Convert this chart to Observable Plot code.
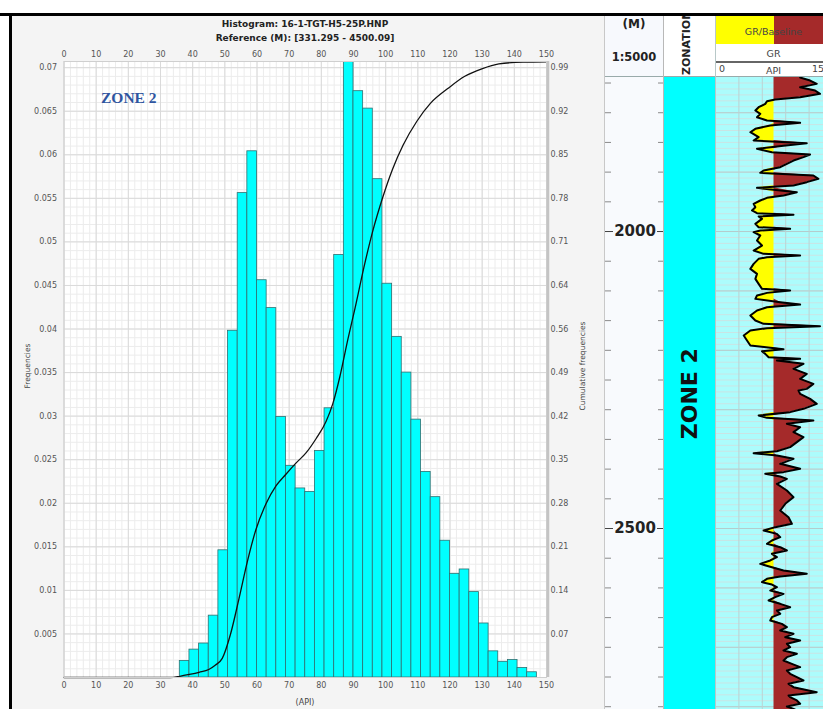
<!DOCTYPE html>
<html><head><meta charset="utf-8">
<script src="https://cdn.jsdelivr.net/npm/d3@7"></script>
<script src="https://cdn.jsdelivr.net/npm/@observablehq/plot@0.6"></script>
<style>
body{margin:0;width:823px;height:709px;overflow:hidden;background:#fff;position:relative;font-family:"DejaVu Sans",sans-serif}
.abs{position:absolute}
.c{position:absolute;white-space:nowrap;transform:translate(-50%,-50%)}
svg{max-width:none !important}
</style></head><body>
<div id="hist" class="abs" style="left:12px;top:16px"></div>
<div class="c" style="left:305px;top:24px;font-weight:bold;font-size:9px;color:#222">Histogram: 16-1-TGT-H5-25P.HNP</div>
<div class="c" style="left:305px;top:38px;font-weight:bold;font-size:9px;color:#222">Reference (M): [331.295 - 4500.09]</div>
<div class="c" style="left:27px;top:366px;font-size:7.5px;color:#444;transform:translate(-50%,-50%) rotate(-90deg)">Frequencies</div>
<div class="c" style="left:582px;top:366px;font-size:7.5px;color:#444;transform:translate(-50%,-50%) rotate(-90deg)">Cumulative frequencies</div>
<div class="c" style="left:305px;top:702px;font-size:8px;color:#444">(API)</div>
<div class="abs" style="left:101px;top:89px;font-family:'Liberation Serif',serif;font-weight:bold;font-size:15.5px;color:#2f55a0">ZONE 2</div>

<!-- log panel -->
<div class="abs" style="left:604px;top:16px;width:1px;height:693px;background:#c8c8c8"></div>
<div class="abs" style="left:605px;top:16px;width:59px;height:60px;background:#f7f9fd">
  <div class="c" style="left:29px;top:7.5px;font-weight:bold;font-size:12px;color:#222">(M)</div>
  <div class="c" style="left:29px;top:41px;font-weight:bold;font-size:11.5px;color:#222">1:5000</div>
</div>
<div class="abs" style="left:664px;top:16px;width:51px;height:60px;background:#fff;overflow:hidden">
  <svg width="51" height="60"><text transform="translate(26,59) rotate(-90)" font-family="DejaVu Sans" font-weight="bold" font-size="11" fill="#222">ZONATION</text></svg>
</div>
<div class="abs" style="left:715px;top:16px;width:108px;height:60px;background:#fff;overflow:hidden">
  <div class="abs" style="left:0;top:0;width:58.5px;height:28px;background:#ffff00"></div>
  <div class="abs" style="left:58.5px;top:0;width:60px;height:28px;background:#a52a2a"></div>
  <div class="c" style="left:58.5px;top:15px;font-size:9.5px;color:#444">GR/Baseline</div>
  <div class="c" style="left:58.5px;top:37px;font-size:9.5px;color:#444">GR</div>
  <div class="abs" style="left:0;top:45px;width:117px;height:2px;background:#666"></div>
  <div class="abs" style="left:4px;top:47px;font-size:9.5px;color:#444">0</div>
  <div class="c" style="left:58.5px;top:54px;font-size:9.5px;color:#444">API</div>
  <div class="abs" style="left:97px;top:47px;font-size:9.5px;color:#444">150</div>
</div>
<div class="abs" style="left:605px;top:76px;width:218px;height:1px;background:#9aa"></div>
<div id="depth" class="abs" style="left:605px;top:77px"></div>
<div id="zone" class="abs" style="left:664px;top:77px"></div>
<div class="abs" style="left:715px;top:77px;width:108px;height:632px;overflow:hidden"><div id="gr" style="width:117px;height:632px"></div></div>
<div class="abs" style="left:663px;top:16px;width:1px;height:693px;background:#b8b8b8"></div>
<div class="abs" style="left:714.5px;top:16px;width:1px;height:693px;background:#b8c8c8"></div>

<div class="abs" style="left:0;top:13px;width:823px;height:3px;background:#000"></div>
<div class="abs" style="left:9px;top:13px;width:3px;height:696px;background:#000"></div>

<script>
// ---------- Histogram data ----------
const binWidth = 3;
const binStarts = [36,39,42,45,48,51,54,57,60,63,66,69,72,75,78,81,84,87,90,93,96,99,102,105,108,111,114,117,120,123,126,129,132,135,138,141,144];
const frequencies = [0.0019,0.0032,0.0039,0.0071,0.0146,0.0398,0.0556,0.0604,0.0456,0.0424,0.0299,0.0243,0.0217,0.0213,0.0260,0.0309,0.0485,0.0712,0.0673,0.0653,0.0572,0.0452,0.0391,0.0350,0.0296,0.0236,0.0207,0.0157,0.0119,0.0124,0.0098,0.0062,0.0030,0.0018,0.0020,0.0011,0.0006];
const cumApi = [0,33,36,39,42,45,47,49.2,51.8,54.4,57,59.6,62.8,65.9,69,72.1,75.3,78.4,81.5,83.6,85.7,88.3,90.5,93.2,95.9,99,102.2,105.4,109.7,113.9,119.3,124.6,129.9,135.2,142.7,150];
const cumFreq = [0,0,0.002,0.005,0.0085,0.013,0.02,0.031,0.071,0.128,0.188,0.239,0.282,0.311,0.33,0.348,0.365,0.388,0.416,0.445,0.487,0.55,0.60,0.665,0.723,0.778,0.826,0.864,0.903,0.932,0.956,0.976,0.988,0.996,0.999,0.9995];
const apiTicks = [0,10,20,30,40,50,60,70,80,90,100,110,120,130,140,150];
const freqTicks = [0.005,0.01,0.015,0.02,0.025,0.03,0.035,0.04,0.045,0.05,0.055,0.06,0.065,0.07];
const freqLabels = ["0.005","0.01","0.015","0.02","0.025","0.03","0.035","0.04","0.045","0.05","0.055","0.06","0.065","0.07"];
const cumLabels = ["0.07","0.14","0.21","0.28","0.35","0.42","0.49","0.56","0.64","0.71","0.78","0.85","0.92","0.99"];
const cumTop = 0.99;   // cumulative value at the 0.07 frequency line

const bins = binStarts.map((x, i) => ({x1: x, x2: x + binWidth, f: frequencies[i]}));
const cum = cumApi.map((x, i) => ({x, c: cumFreq[i]}));
const yTop = 0.07 / cumTop;

const hist = Plot.plot({
  width: 592, height: 693,
  marginLeft: 51.5, marginRight: 58, marginTop: 45, marginBottom: 32,
  x: {domain: [0, 150]},
  y: {domain: [0, yTop]},
  style: {background: "#f4f4f4", fontFamily: "DejaVu Sans", fontSize: "8px", color: "#555"},
  marks: [
    Plot.frame({fill: "white", stroke: null}),
    Plot.ruleX(d3.range(0, 151, 2), {stroke: "#ececec"}),
    Plot.ruleY(d3.range(0, 0.0705, 0.001), {stroke: "#ececec"}),
    Plot.ruleX(apiTicks, {stroke: "#dadada"}),
    Plot.ruleY(freqTicks, {stroke: "#dadada"}),
    Plot.rectY(bins, {x1: "x1", x2: "x2", y: "f", fill: "#00ffff", stroke: "#2f6f70", strokeWidth: 0.8, clip: true}),
    Plot.line(cum, {x: "x", y: d => d.c * yTop, stroke: "#111", strokeWidth: 1.3, curve: "monotone-x"}),
    Plot.frame({stroke: "#cfcfcf"}),
    Plot.ruleX([150], {stroke: "#c4c4c4", strokeWidth: 2.5, dx: 1.5}),
    Plot.axisX(apiTicks, {anchor: "top", tickSize: 0, tickPadding: 5, label: null, fill: "#555"}),
    Plot.axisX(apiTicks, {anchor: "bottom", tickSize: 0, tickPadding: 5, label: null, fill: "#555"}),
    Plot.axisY(freqTicks, {anchor: "left", tickSize: 0, tickPadding: 7, label: null, fill: "#555",
      tickFormat: d => freqLabels[freqTicks.indexOf(d)]}),
    Plot.axisY(freqTicks, {anchor: "right", tickSize: 0, tickPadding: 4, label: null, fill: "#555",
      tickFormat: d => cumLabels[freqTicks.indexOf(d)]})
  ]
});
document.getElementById("hist").append(hist);

// ---------- Well log data ----------
const depthTop = 1740.7, depthBase = 2804.7;
const depthTicks = [1750,1800,1850,1900,1950,2000,2050,2100,2150,2200,2250,2300,2350,2400,2450,2500,2550,2600,2650,2700,2750,2800];
const depthLabels = [2000, 2500];
const zones = [{name: "ZONE 2", top: 1700, base: 2846}];
const grBaseline = 75;
const grGrid = [30, 60, 90, 120];
const logDepth = [1740.7,1745.8,1751.4,1757.0,1762.6,1768.2,1773.8,1777.8,1780.6,1785.1,1790.7,1796.3,1801.9,1807.5,1813.1,1817.0,1821.5,1827.1,1832.8,1841.2,1846.8,1851.3,1855.8,1860.8,1866.4,1870.4,1874.8,1880.5,1886.1,1891.7,1897.3,1901.2,1905.7,1911.3,1916.9,1922.5,1926.5,1933.8,1939.4,1943.3,1947.8,1953.4,1959.0,1964.6,1969.1,1971.9,1974.7,1978.7,1987.1,1992.7,1995.5,1998.3,2001.1,2006.7,2015.1,2023.6,2032.0,2037.6,2040.4,2043.2,2046.0,2054.4,2062.9,2071.3,2079.7,2088.1,2096.5,2099.3,2103.3,2107.7,2113.4,2119.0,2122.9,2127.4,2133.0,2141.4,2149.8,2155.4,2159.4,2162.7,2166.7,2175.1,2183.5,2191.9,2195.8,2198.1,2201.5,2206.0,2211.6,2214.4,2217.2,2222.8,2231.2,2239.6,2248.0,2256.5,2264.9,
2267.6,2273.3,2281.7,2290.1,2298.5,2304.1,2309.7,2313.7,2318.1,2323.8,2329.4,2337.8,2346.2,2354.6,2363.0,2369.8,2373.1,2377.1,2382.7,2391.1,2399.5,2405.1,2407.9,2412.4,2416.4,2424.8,2436.0,2447.2,2458.4,2469.7,2480.9,2492.1,2497.7,2503.3,2509.0,2514.6,2520.2,2525.8,2531.4,2537.0,2542.6,2548.2,2553.8,2559.5,2565.1,2570.7,2576.3,2580.8,2584.7,2590.3,2594.3,2598.8,2604.4,2610.0,2615.6,2621.2,2626.8,2632.4,2638.0,2643.6,2649.3,2654.9,2660.5,2666.1,2671.7,2677.3,2682.9,2688.5,2694.1,2699.8,2705.4,2711.0,2716.6,2722.2,2727.8,2733.4,2739.0,2744.6,2750.3,2755.9,2761.5,2767.1,2775.5,2781.1,2783.9,2789.5,2795.1,2799.6,2803.6,2806.4];
const logGR = [108.5,121.3,129.8,108.5,127.7,134.0,108.5,76.6,66.0,63.8,55.3,51.1,57.4,53.2,66.0,108.5,70.2,51.1,44.7,55.3,48.9,117.0,87.2,53.2,72.3,121.3,112.8,100.0,91.5,83.0,61.7,57.4,125.5,131.9,117.0,100.0,53.2,104.3,87.2,66.0,57.4,48.9,51.1,46.8,53.2,100.0,55.3,59.6,51.1,55.3,95.7,57.4,48.9,57.4,53.2,59.6,48.9,61.7,108.5,66.0,55.3,48.9,44.7,53.2,51.1,55.3,59.6,95.7,66.0,53.2,51.1,83.0,108.5,66.0,53.2,44.7,51.1,61.7,134.0,66.0,44.7,36.2,40.4,44.7,70.2,87.2,59.6,63.8,68.1,108.5,78.7,112.8,100.0,117.0,108.5,125.5,117.0,
106.4,108.5,121.3,129.8,112.8,95.7,55.3,66.0,125.5,91.5,108.5,100.0,112.8,104.3,95.7,78.7,48.9,78.7,100.0,83.0,108.5,87.2,63.8,83.0,91.5,78.7,91.5,100.0,89.4,83.0,93.6,97.9,76.6,61.7,78.7,83.0,72.3,66.0,83.0,91.5,72.3,78.7,70.2,57.4,72.3,87.2,117.0,83.0,66.0,59.6,72.3,78.7,70.2,87.2,76.6,68.1,83.0,95.7,78.7,83.0,72.3,70.2,85.1,91.5,83.0,100.0,89.4,108.5,91.5,95.7,87.2,104.3,91.5,87.2,97.9,108.5,91.5,95.7,104.3,112.8,93.6,100.0,129.8,93.6,95.7,104.3,108.5,91.5,100.0,104.3];
const log = logDepth.map((d, i) => ({d, gr: logGR[i]}));

const yDepth = () => ({domain: [depthTop, depthBase], reverse: true, axis: null});

document.getElementById("depth").append(Plot.plot({
  width: 59, height: 632, margin: 0,
  x: {domain: [0, 1], axis: null}, y: yDepth(),
  style: {background: "#f8fafd", fontFamily: "DejaVu Sans"},
  marks: [
    Plot.tickY(depthTicks, {y: d => d, stroke: "#8a8a8a", insetRight: 53}),
    Plot.tickY(depthTicks, {y: d => d, stroke: "#8a8a8a", insetLeft: 53}),
    Plot.tickY(depthLabels, {y: d => d, stroke: "#444", insetRight: 51}),
    Plot.tickY(depthLabels, {y: d => d, stroke: "#444", insetLeft: 52}),
    Plot.text(depthLabels, {y: d => d, text: d => String(d), frameAnchor: "middle", fontSize: 15, fontWeight: "bold", fill: "#222"})
  ]
}));

document.getElementById("zone").append(Plot.plot({
  width: 51, height: 632, margin: 0,
  x: {domain: [0, 1], axis: null}, y: yDepth(),
  style: {background: "#ffffff", fontFamily: "DejaVu Sans"},
  marks: [
    Plot.rect(zones, {y1: "top", y2: "base", fill: "#00ffff"}),
    Plot.text(zones, {y: d => (d.top + d.base) / 2, text: "name", rotate: -90, frameAnchor: "middle", fontSize: 22, fontWeight: "bold", fill: "#111"})
  ]
}));

document.getElementById("gr").append(Plot.plot({
  width: 117, height: 632, margin: 0,
  x: {domain: [0, 150], axis: null}, y: yDepth(),
  style: {background: "#acfcfc", maxWidth: "none"},
  marks: [
    Plot.ruleY(d3.range(1750, 2801, 10), {stroke: "#cbe4e4"}),
    Plot.ruleY(d3.range(1800, 2801, 100), {stroke: "#b4cccc"}),
    Plot.ruleX(grGrid, {stroke: "#bcd2d2"}),
    Plot.areaX(log, {y: "d", x1: () => grBaseline, x2: d => Math.min(d.gr, grBaseline), fill: "#ffff00"}),
    Plot.areaX(log, {y: "d", x1: () => grBaseline, x2: d => Math.max(d.gr, grBaseline), fill: "#a52a2a"}),
    Plot.lineX(log, {x: "gr", y: "d", stroke: "#000", strokeWidth: 2})
  ]
}));
</script>
</body></html>
